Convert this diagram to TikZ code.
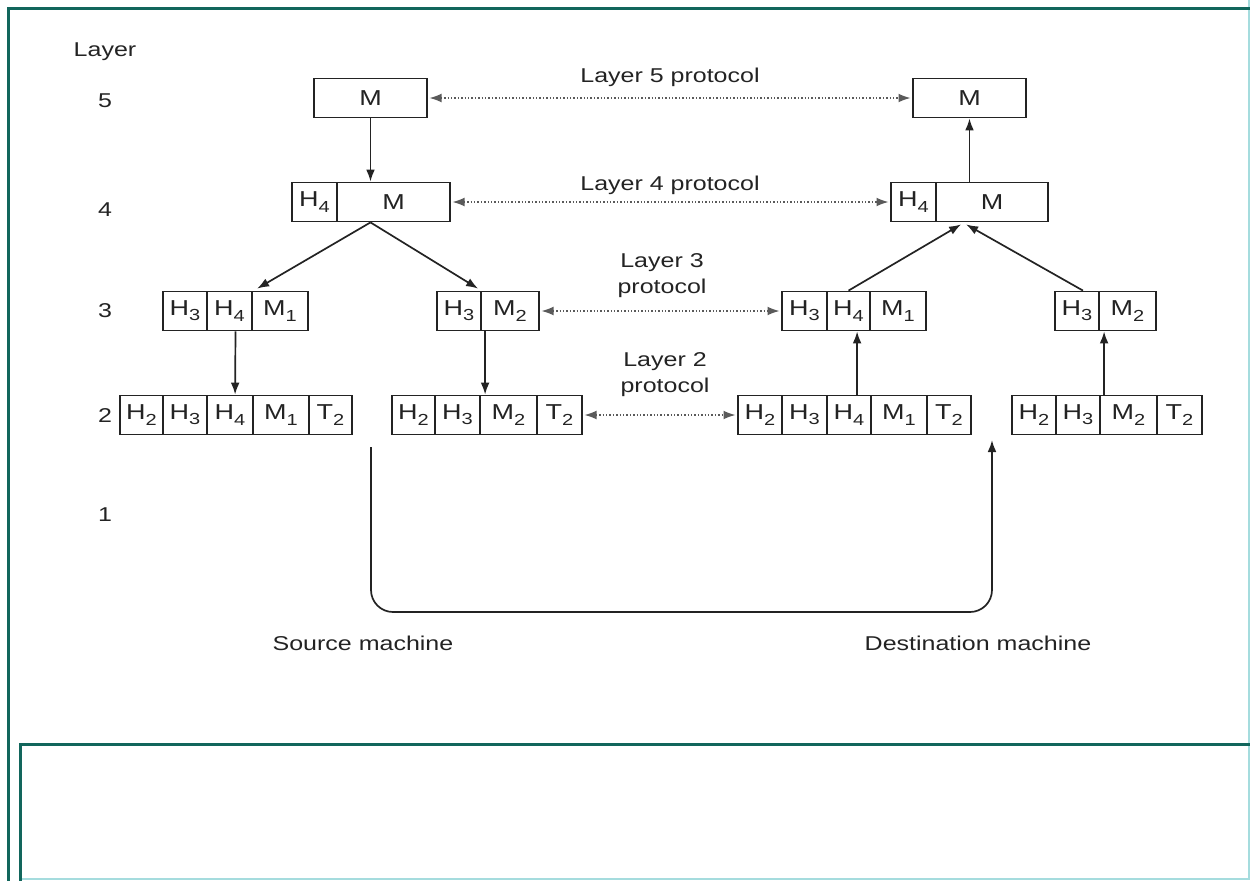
\documentclass[tikz,border=0pt]{standalone}
\usepackage{fontspec}
\setmainfont[FakeStretch=1.25]{Liberation Sans}
\usetikzlibrary{arrows.meta,calc}
\definecolor{framec}{RGB}{18,102,92}
\definecolor{framelight}{RGB}{165,220,222}
\definecolor{ink}{RGB}{35,35,35}
\newcommand\sbs[1]{\raisebox{-0.45ex}{\fontsize{8}{9}\selectfont #1}}
\newcommand\cellbox[5]{\node[cell,minimum width={(#3-#2)*0.5pt}] (#1) at ({(#2+#3)/2},#4) {#5};}
\begin{document}
\begin{tikzpicture}[x=0.5pt,y=-0.5pt,
  cell/.style={draw=ink,line width=0.9pt,minimum height=19.5pt,inner sep=0pt,
    font=\fontsize{10.8}{12}\selectfont,text=ink},
  arr/.style={-{Latex[length=6pt,width=4.4pt]},line width=0.85pt,draw=ink},
  darr/.style={{Latex[length=6pt,width=4.4pt]}-{Latex[length=6pt,width=4.4pt]},
    densely dotted,line width=0.7pt,draw=ink!75,shorten <=0.8pt,shorten >=0.8pt},
  lbl/.style={font=\fontsize{10}{13}\selectfont,text=ink,align=center,inner sep=0pt}]
\useasboundingbox (0,0) rectangle (1250,880);
\clip (0,0) rectangle (1250,880);
% frames
\draw[framelight,line width=0.8pt] (1249,0) -- (1249,880);
\draw[framelight,line width=0.8pt] (20,879) -- (1250,879);
\draw[framec,line width=1.5pt] (1300,8) -- (8,8) -- (8,900);
\draw[framec,line width=1.5pt] (1300,744) -- (20,744) -- (20,900);
% layer numbers
\node[lbl] (lay) at (105,52) {Layer};
\node[lbl] (n5) at (105,101) {5};
\node[lbl] (n4) at (105,210) {4};
\node[lbl] (n3) at (105,311) {3};
\node[lbl] (n2) at (105,416) {2};
\node[lbl] (n1) at (105,515) {1};
% layer 5
\cellbox{s5}{314}{427}{98}{M}
\cellbox{d5}{913}{1026}{98}{M}
% layer 4
\cellbox{s4h}{292}{337}{202}{H\sbs{4}}
\cellbox{s4m}{337}{450}{202}{M}
\cellbox{d4h}{891}{936}{202}{H\sbs{4}}
\cellbox{d4m}{936}{1048}{202}{M}
% layer 3
\cellbox{a3h3}{163}{207}{311}{H\sbs{3}}
\cellbox{a3h4}{207}{252}{311}{H\sbs{4}}
\cellbox{a3m}{252}{308}{311}{M\sbs{1}}
\cellbox{b3h3}{437}{481}{311}{H\sbs{3}}
\cellbox{b3m}{481}{539}{311}{M\sbs{2}}
\cellbox{c3h3}{782}{827}{311}{H\sbs{3}}
\cellbox{c3h4}{827}{870}{311}{H\sbs{4}}
\cellbox{c3m}{870}{926}{311}{M\sbs{1}}
\cellbox{e3h3}{1055}{1099}{311}{H\sbs{3}}
\cellbox{e3m}{1099}{1156}{311}{M\sbs{2}}
% layer 2
\cellbox{a2h2}{120}{163}{415}{H\sbs{2}}
\cellbox{a2h3}{163}{207}{415}{H\sbs{3}}
\cellbox{a2h4}{207}{253}{415}{H\sbs{4}}
\cellbox{a2m}{253}{309}{415}{M\sbs{1}}
\cellbox{a2t}{309}{352}{415}{T\sbs{2}}
\cellbox{b2h2}{392}{435}{415}{H\sbs{2}}
\cellbox{b2h3}{435}{480}{415}{H\sbs{3}}
\cellbox{b2m}{480}{537}{415}{M\sbs{2}}
\cellbox{b2t}{537}{582}{415}{T\sbs{2}}
\cellbox{c2h2}{738}{782}{415}{H\sbs{2}}
\cellbox{c2h3}{782}{827}{415}{H\sbs{3}}
\cellbox{c2h4}{827}{871}{415}{H\sbs{4}}
\cellbox{c2m}{871}{927}{415}{M\sbs{1}}
\cellbox{c2t}{927}{971}{415}{T\sbs{2}}
\cellbox{e2h2}{1012}{1056}{415}{H\sbs{2}}
\cellbox{e2h3}{1056}{1100}{415}{H\sbs{3}}
\cellbox{e2m}{1100}{1157}{415}{M\sbs{2}}
\cellbox{e2t}{1157}{1202}{415}{T\sbs{2}}
% protocol labels
\node[lbl] (p5) at (670,77) {Layer 5 protocol};
\node[lbl] (p4) at (670,185) {Layer 4 protocol};
\node[lbl] (p3) at (662,276) {Layer 3\\protocol};
\node[lbl] (p2) at (665,375) {Layer 2\\protocol};
% peer protocol arrows
\draw[darr] (s5.east) -- (d5.west);
\draw[darr] (s4m.east) -- (d4h.west);
\draw[darr] (b3m.east) -- (c3h3.west);
\draw[darr] (b2t.east) -- (c2h2.west);
% source side
\draw[arr] (s5.south) -- (s5.south |- s4m.north);
\coordinate (s4b) at (s5.south |- s4m.south);
\draw[arr] (s4b) -- ($(a3m.north west)+(6,-2)$);
\draw[arr] (s4b) -- ($(b3m.north west)+(-2,-2)$);
\draw[arr] ($(a3h4.south)+(6,0)$) -- ($(a2h4.north west)+(29,0)$);
\draw[arr] ($(b3m.south west)+(5,0)$) -- ($(b2m.north west)+(6,0)$);
% destination side
\draw[arr] ($(c2h4.north west)+(31,0)$) -- ($(c3h4.south west)+(31,0)$);
\draw[arr] ($(e2m.north west)+(5,0)$) -- ($(e3m.south west)+(6,0)$);
\draw[arr] (c3h4.north) -- ($(d4m.south west)+(26,2)$);
\draw[arr] ($(e3h3.north)+(6,0)$) -- ($(d4m.south west)+(31,2)$);
\draw[arr] (d5.south |- d4m.north) -- (d5.south);
% physical medium
\coordinate (phyS) at (371,447);
\coordinate (phyD) at (992,440);
\draw[arr,rounded corners=11pt] (phyS) -- (phyS |- 0,612) -- (phyD |- 0,612) -- (phyD);
\node[lbl] (src) at (363,643) {Source machine};
\node[lbl] (dst) at (978,643) {Destination machine};
\end{tikzpicture}
\end{document}
